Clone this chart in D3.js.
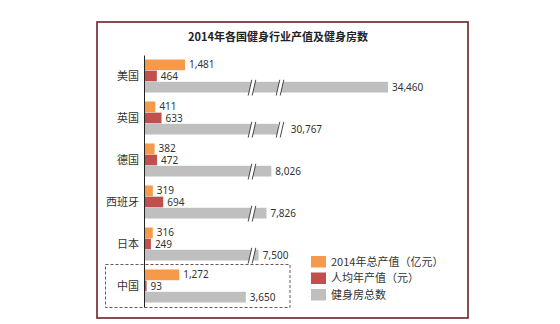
<!DOCTYPE html>
<html>
<head>
<meta charset="utf-8">
<script src="https://cdn.jsdelivr.net/npm/d3@7"></script>
<style>
  html, body { margin: 0; padding: 0; background: #fff; }
  svg { display: block; }
</style>
</head>
<body>
<svg id="chart" width="560" height="324"></svg>
<script>
const title = "2014年各国健身行业产值及健身房数";
const categories = ["美国", "英国", "德国", "西班牙", "日本", "中国"];
const totalOutput = [1481, 411, 382, 319, 316, 1272];   // 2014年总产值（亿元）
const perCapita = [464, 633, 472, 694, 249, 93];         // 人均年产值（元）
const gyms = [34460, 30767, 8026, 7826, 7500, 3650];     // 健身房总数
const seriesNames = ["2014年总产值（亿元）", "人均年产值（元）", "健身房总数"];
const colors = ["#F59A4A", "#C0504D", "#BFBFBF"];
const highlight = "中国";

const svg = d3.select("#chart");
const fontCJK = "'Noto Sans CJK SC', 'Noto Sans', sans-serif";
const fontNum = "'Noto Sans', 'Noto Sans CJK SC', sans-serif";

// frame
svg.append("rect")
  .attr("x", 97).attr("y", 22).attr("width", 371).attr("height", 296)
  .attr("fill", "#fff").attr("stroke", "#6a2226").attr("stroke-width", 1.6);

// title
svg.append("text")
  .attr("x", 278).attr("y", 41)
  .attr("text-anchor", "middle")
  .attr("font-family", fontCJK).attr("font-size", 11).attr("font-weight", "bold")
  .attr("fill", "#222")
  .text(title);

const x0 = 144;
const y = d3.scaleBand().domain(categories).range([55, 307]).paddingInner(0.214).paddingOuter(0.107);
const inner = d3.scaleBand().domain([0, 1, 2]).range([0, y.bandwidth()]).paddingInner(0.04);

// linear scale for the two value series
const xVal = d3.scaleLinear().domain([0, 1481]).range([x0, x0 + 41]);
// broken scale for gym counts (two axis breaks)
const breaks = [3800, 30767];
const xGym = d3.scaleLinear()
  .domain([0, 3800, 7150, 8300, 30767, 34460])
  .range([x0, x0 + 106, x0 + 106, x0 + 134, x0 + 134, x0 + 244]);

const fmt = d3.format(",");

const g = svg.append("g");

categories.forEach((c, i) => {
  const by = y(c);
  const rows = [
    { v: totalOutput[i], x: xVal, k: 0 },
    { v: perCapita[i], x: xVal, k: 1 },
    { v: gyms[i], x: xGym, k: 2 }
  ];
  rows.forEach(r => {
    const yy = by + inner(r.k);
    const h = inner.bandwidth();
    const xe = r.x(r.v);
    g.append("rect")
      .attr("x", x0).attr("y", yy)
      .attr("width", xe - x0).attr("height", h)
      .attr("fill", colors[r.k]);
    let lx = xe + 4;
    if (r.k === 2) {
      breaks.forEach(bv => {
        if (r.v >= bv) {
          const cx = xGym(bv) + 2;
          const top = yy - 2, bot = yy + h + 3;
          const s = 1.8, w = 2.0;
          g.append("polygon")
            .attr("points", [[cx - s - w, bot], [cx + s - w, top], [cx + s + w, top], [cx - s + w, bot]].map(p => p.join(",")).join(" "))
            .attr("fill", "#fff");
          [-w, w].forEach(o => {
            g.append("line")
              .attr("x1", cx - s + o).attr("y1", bot)
              .attr("x2", cx + s + o).attr("y2", top)
              .attr("stroke", "#333").attr("stroke-width", 0.9);
          });
          lx = Math.max(lx, cx + s + w + 7);
        }
      });
    }
    g.append("text")
      .attr("x", lx).attr("y", yy + h / 2)
      .attr("dy", "0.35em")
      .attr("font-family", fontNum).attr("font-size", 10)
      .attr("fill", "#333")
      .text(fmt(r.v));
  });
});

// axis
const axis = d3.axisLeft(y).tickSize(0).tickPadding(5).tickSizeOuter(0);
const ax = svg.append("g").attr("transform", `translate(${x0},0)`).call(axis);
ax.select(".domain").attr("stroke", "#222").attr("stroke-width", 1);
ax.selectAll("text")
  .attr("font-family", fontCJK).attr("font-size", 11).attr("fill", "#333");

// highlight box around China
const hy = y(highlight);
svg.append("rect")
  .attr("x", 105.5).attr("y", hy - 5)
  .attr("width", 184.5).attr("height", y.bandwidth() + 10)
  .attr("fill", "none")
  .attr("stroke", "#6b5555").attr("stroke-width", 1)
  .attr("stroke-dasharray", "3,2");

// legend
const lg = svg.append("g").attr("transform", "translate(311,256)");
seriesNames.forEach((n, i) => {
  const row = lg.append("g").attr("transform", `translate(0,${i * 16.5})`);
  row.append("rect").attr("width", 15).attr("height", 11.5).attr("fill", colors[i]);
  row.append("text")
    .attr("x", 20).attr("y", 6)
    .attr("dy", "0.35em")
    .attr("font-family", fontCJK).attr("font-size", 11).attr("fill", "#333")
    .text(n);
});
</script>
</body>
</html>
